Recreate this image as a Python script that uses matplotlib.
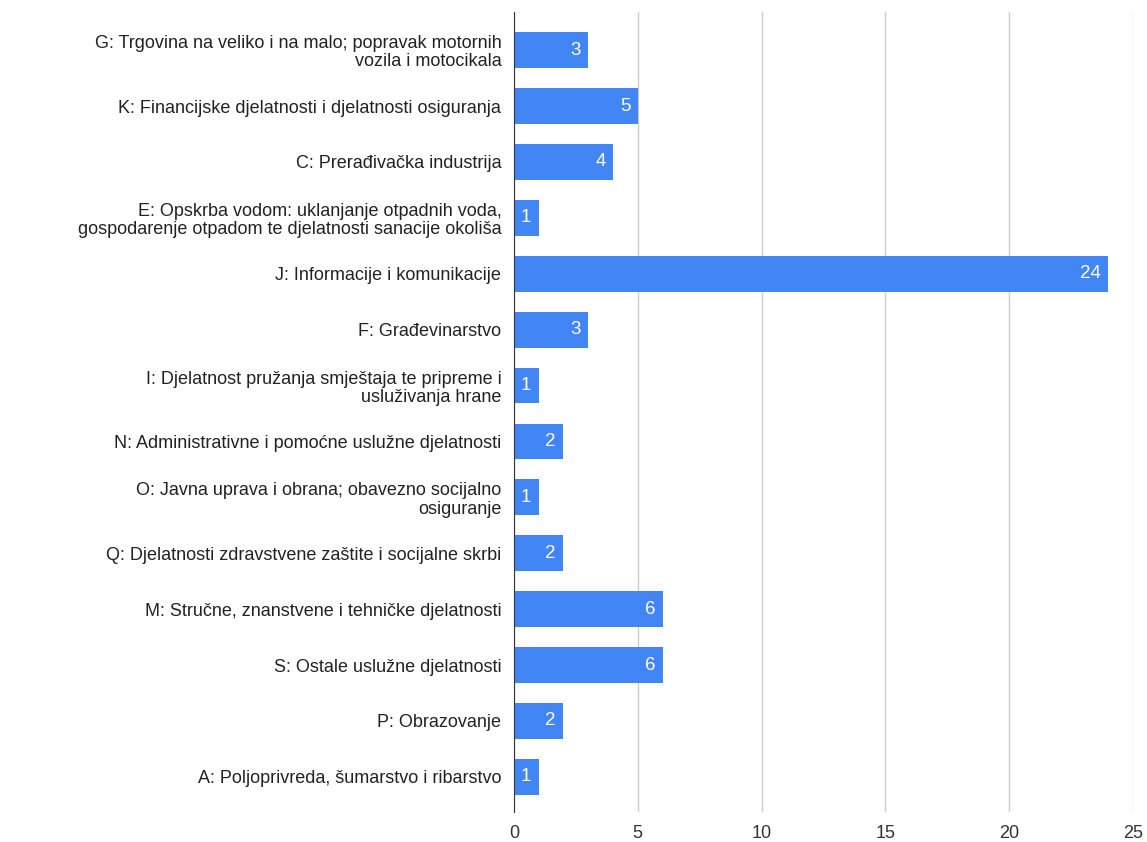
import matplotlib.pyplot as plt

categories = [
    "G: Trgovina na veliko i na malo; popravak motornih\nvozila i motocikala",
    "K: Financijske djelatnosti i djelatnosti osiguranja",
    "C: Prerađivačka industrija",
    "E: Opskrba vodom: uklanjanje otpadnih voda,\ngospodarenje otpadom te djelatnosti sanacije okoliša",
    "J: Informacije i komunikacije",
    "F: Građevinarstvo",
    "I: Djelatnost pružanja smještaja te pripreme i\nusluživanja hrane",
    "N: Administrativne i pomoćne uslužne djelatnosti",
    "O: Javna uprava i obrana; obavezno socijalno\nosiguranje",
    "Q: Djelatnosti zdravstvene zaštite i socijalne skrbi",
    "M: Stručne, znanstvene i tehničke djelatnosti",
    "S: Ostale uslužne djelatnosti",
    "P: Obrazovanje",
    "A: Poljoprivreda, šumarstvo i ribarstvo",
]
values = [3, 5, 4, 1, 24, 3, 1, 2, 1, 2, 6, 6, 2, 1]
xticks = [0, 5, 10, 15, 20, 25]

plt.rcParams['font.family'] = ['Liberation Sans', 'DejaVu Sans']

fig = plt.figure(figsize=(11.47, 8.42), dpi=100)
ax = fig.add_axes([0.448, 0.0356, 0.540, 0.950])

y = list(range(len(categories)))
ax.barh(y, values, height=0.64, color='#4285F4', zorder=3)
for yi, v in zip(y, values):
    ax.text(v - 0.3, yi, str(v), color='white', ha='right', va='center',
            fontsize=13.5, zorder=4)

ax.set_yticks(y)
ax.set_yticklabels(categories, fontsize=13, color='#222222', linespacing=1.1)
ax.set_ylim(len(categories) - 1 + 0.63, -0.68)
ax.set_xlim(0, 25)
ax.set_xticks(xticks)
ax.set_xticklabels([str(t) for t in xticks], fontsize=13, color='#333333')
ax.grid(axis='x', color='#cccccc', linewidth=1, zorder=0)
ax.tick_params(axis='both', length=0)
ax.tick_params(axis='y', pad=9)
ax.tick_params(axis='x', pad=9)
for s in ['top', 'right', 'bottom']:
    ax.spines[s].set_visible(False)
ax.spines['left'].set_color('#333333')
ax.spines['left'].set_zorder(5)

fig.savefig('out.png', dpi=100, facecolor='white')
